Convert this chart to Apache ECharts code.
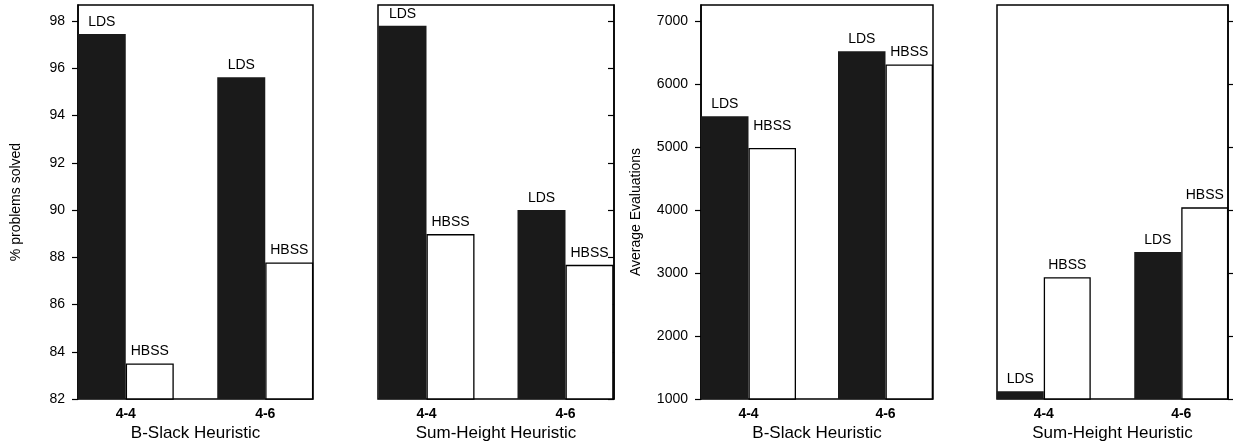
<!DOCTYPE html>
<html>
<head>
<meta charset="utf-8">
<script src="https://cdn.jsdelivr.net/npm/echarts@6/dist/echarts.min.js"></script>
<style>
  html, body { margin: 0; padding: 0; background: #fff; }
  #chart { width: 1233px; height: 441px; }
</style>
</head>
<body>
<div id="chart"></div>
<script>
// ---- data ----
const categories = ['4-4', '4-6'];
const seriesNames = ['LDS', 'HBSS'];

const pctBSlackLDS = [97.45, 95.62];
const pctBSlackHBSS = [83.5, 87.78];
const pctSumHeightLDS = [97.8, 90.0];
const pctSumHeightHBSS = [88.98, 87.68];

const evalBSlackLDS = [5485, 6515];
const evalBSlackHBSS = [4982, 6305];
const evalSumHeightLDS = [1122, 3330];
const evalSumHeightHBSS = [2932, 4040];

const pctTicks = [82, 84, 86, 88, 90, 92, 94, 96, 98];
const evalTicks = [1000, 2000, 3000, 4000, 5000, 6000, 7000];

const xNames = ['B-Slack Heuristic', 'Sum-Height Heuristic', 'B-Slack Heuristic', 'Sum-Height Heuristic'];
const yNames = ['% problems solved', '', 'Average Evaluations', ''];

// ---- layout ----
const FONT = 'Liberation Sans, Arial, Helvetica, sans-serif';
const TOP = 5, HEIGHT = 394;
const panels = [
  { frameLeft: 78,  frameWidth: 235, barLeft: 56,  barWidthGrid: 279, bw: 48,   lds: pctBSlackLDS,     hbss: pctBSlackHBSS,     min: 82,   max: 98.68, ticks: pctTicks,  pos: 'left',  labels: true,  inside: false, nameGap: 55, namePad: [0, 0, 0, 0] },
  { frameLeft: 378, frameWidth: 236, barLeft: 357, barWidthGrid: 278, bw: 48,   lds: pctSumHeightLDS,  hbss: pctSumHeightHBSS,  min: 82,   max: 98.68, ticks: pctTicks,  pos: 'right', labels: false, inside: true,  nameGap: 55, namePad: [0, 0, 0, 0] },
  { frameLeft: 701, frameWidth: 232, barLeft: 680, barWidthGrid: 274, bw: 47.5, lds: evalBSlackLDS,    hbss: evalBSlackHBSS,    min: 1000, max: 7250,  ticks: evalTicks, pos: 'left',  labels: true,  inside: false, nameGap: 58, namePad: [0, 20, 0, 0] },
  { frameLeft: 997, frameWidth: 231, barLeft: 975, barWidthGrid: 275, bw: 47,   lds: evalSumHeightLDS, hbss: evalSumHeightHBSS, min: 1000, max: 7250,  ticks: evalTicks, pos: 'right', labels: false, inside: false, nameGap: 55, namePad: [0, 0, 0, 0] }
];
// label distance overrides (panel index, series, category index)
const labelDistOverride = { '2-HBSS-0': 15 };

const grid = [], xAxis = [], yAxis = [], series = [];
panels.forEach((p, i) => {
  grid.push({ left: p.frameLeft, width: p.frameWidth, top: TOP, height: HEIGHT, show: true,
              borderColor: '#000', borderWidth: 1.5, backgroundColor: 'transparent',
              containLabel: false, outerBoundsMode: 'none' });
  grid.push({ left: p.barLeft, width: p.barWidthGrid, top: TOP, height: HEIGHT, show: false,
              containLabel: false, outerBoundsMode: 'none' });

  xAxis.push({ gridIndex: 2 * i, type: 'category', data: categories, show: false });
  xAxis.push({
    gridIndex: 2 * i + 1, type: 'category', data: categories,
    axisLine: { show: false }, axisTick: { show: false },
    axisLabel: { fontSize: 14, fontWeight: 'bold', color: '#000', margin: 8, fontFamily: FONT },
    name: xNames[i], nameLocation: 'middle', nameGap: 26, nameMoveOverlap: false,
    nameTextStyle: { fontSize: 17, color: '#000', fontFamily: FONT }
  });

  yAxis.push({
    gridIndex: 2 * i, type: 'value', position: p.pos, min: p.min, max: p.max,
    axisLine: { show: true, lineStyle: { color: '#000', width: 1.5 } },
    axisTick: { show: true, inside: p.inside, length: 6, lineStyle: { color: '#000', width: 1.2 }, customValues: p.ticks },
    axisLabel: { show: p.labels, customValues: p.ticks, fontSize: 14, color: '#000', margin: 13, fontFamily: FONT,
                 formatter: (v) => String(v) },
    splitLine: { show: false },
    name: yNames[i], nameLocation: 'middle', nameGap: p.nameGap, nameMoveOverlap: false,
    nameTextStyle: { fontSize: 14, color: '#000', fontFamily: FONT, padding: p.namePad }
  });
  yAxis.push({ gridIndex: 2 * i + 1, type: 'value', min: p.min, max: p.max, show: false });

  const mk = (name, values, style) => ({
    type: 'bar', name: name,
    xAxisIndex: 2 * i + 1, yAxisIndex: 2 * i + 1,
    barWidth: p.bw, barGap: '0%',
    itemStyle: style,
    label: { show: true, position: 'top', distance: 5, formatter: name, fontSize: 14, color: '#000', fontFamily: FONT },
    data: values.map((v, k) => {
      const key = i + '-' + name + '-' + k;
      return labelDistOverride[key] ? { value: v, label: { distance: labelDistOverride[key] } } : v;
    })
  });
  series.push(mk(seriesNames[0], p.lds, { color: '#1a1a1a' }));
  series.push(mk(seriesNames[1], p.hbss, { color: '#fff', borderColor: '#000', borderWidth: 1.3 }));
});

const chart = echarts.init(document.getElementById('chart'), null, { renderer: 'canvas' });
chart.setOption({
  animation: false,
  backgroundColor: '#fff',
  grid, xAxis, yAxis, series
});
</script>
</body>
</html>
